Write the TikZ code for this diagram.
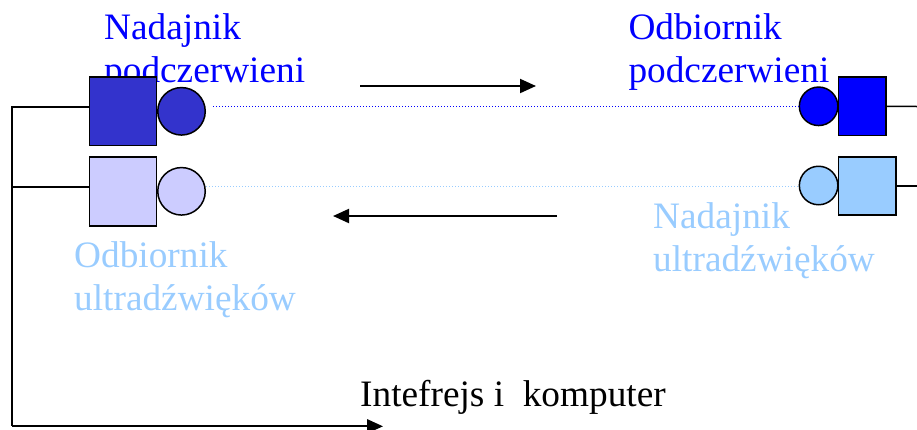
\documentclass[tikz,border=0pt]{standalone}
\usepackage{fontspec}
\setmainfont{Liberation Serif}
\usetikzlibrary{arrows.meta}
\definecolor{irdark}{HTML}{3333CC}
\definecolor{irblue}{HTML}{0000FF}
\definecolor{uslight}{HTML}{CCCCFF}
\definecolor{usblue}{HTML}{99CCFF}
\begin{document}
\begin{tikzpicture}[x=1pt,y=-1pt,
  lbl/.style={anchor=base west, inner sep=0, font=\fontsize{37.3}{43}\selectfont},
  box/.style={draw=black, line width=1.5pt, inner sep=0, rectangle},
  disc/.style={draw=black, line width=1.5pt, inner sep=0, circle},
  wire/.style={draw=black, line width=1.5pt},
  flow/.style={draw=black, line width=2pt, -{Triangle[length=16pt,width=14pt]}},
  beam/.style={line width=1.3pt, dash pattern=on 1.2pt off 1.8pt}]
\useasboundingbox (0,0) rectangle (917,429);

% labels
\node[lbl, text=irblue] (t1a) at (104,39.3) {Nadajnik};
\node[lbl, text=irblue] (t1b) at (104,82.3) {podczerwieni};
\node[lbl, text=irblue] (t2a) at (628.3,39.3) {Odbiornik};
\node[lbl, text=irblue] (t2b) at (628.3,82.3) {podczerwieni};
\node[lbl, text=usblue] (t3a) at (74,267) {Odbiornik};
\node[lbl, text=usblue] (t3b) at (74,310) {ultradźwięków};
\node[lbl, text=usblue] (t4a) at (653,228.5) {Nadajnik};
\node[lbl, text=usblue] (t4b) at (653,271.7) {ultradźwięków};
\node[lbl, text=black] (t5) at (360,406.7) {Intefrejs i\ \ komputer};

% left devices
\node[box, fill=irdark, minimum width=67pt, minimum height=68.5pt] (lsq1) at (123,111.3) {};
\node[disc, fill=irdark, minimum size=47.5pt] (lcir1) at (181.5,111.3) {};
\node[box, fill=uslight, minimum width=67pt, minimum height=69pt] (lsq2) at (123,191.3) {};
\node[disc, fill=uslight, minimum size=47.5pt] (lcir2) at (181.5,191.3) {};

% right devices
\node[disc, fill=irblue, minimum size=38.5pt] (rcir1) at (818.6,106.3) {};
\node[box, fill=irblue, minimum width=47.7pt, minimum height=58.5pt] (rsq1) at (862.3,106.3) {};
\node[disc, fill=usblue, minimum size=38.5pt] (rcir2) at (818.6,185.5) {};
\node[box, fill=usblue, minimum width=57.5pt, minimum height=58pt] (rsq2) at (867.2,186) {};

% wiring
\coordinate (j1) at (12,107);
\coordinate (j2) at (12,187);
\coordinate (jb) at (12,426.3);
\coordinate (pc) at (383,426.3);
\coordinate (r1) at (917,106.5);
\coordinate (r2) at (917,186);
\draw[wire] (j1 -| lsq1.west) -- (j1) -- (jb);
\draw[wire] (j2 -| lsq2.west) -- (j2);
\draw[flow] (jb) -- (pc);
\draw[wire] (rsq1.east) -- (r1);
\draw[wire] (rsq2.east) -- (r2);

% beams
\coordinate (b1) at (213,106.3);
\coordinate (b2) at (206,186.3);
\draw[beam, draw=irblue] (b1) -- (b1 -| rcir1.west);
\draw[beam, draw=usblue] (b2) -- (b2 -| rcir2.west);

% direction arrows
\coordinate (a1s) at (360,86);
\coordinate (a1e) at (536,86);
\coordinate (a2s) at (557,216);
\coordinate (a2e) at (333,216);
\draw[flow] (a1s) -- (a1e);
\draw[flow] (a2s) -- (a2e);
\end{tikzpicture}
\end{document}
